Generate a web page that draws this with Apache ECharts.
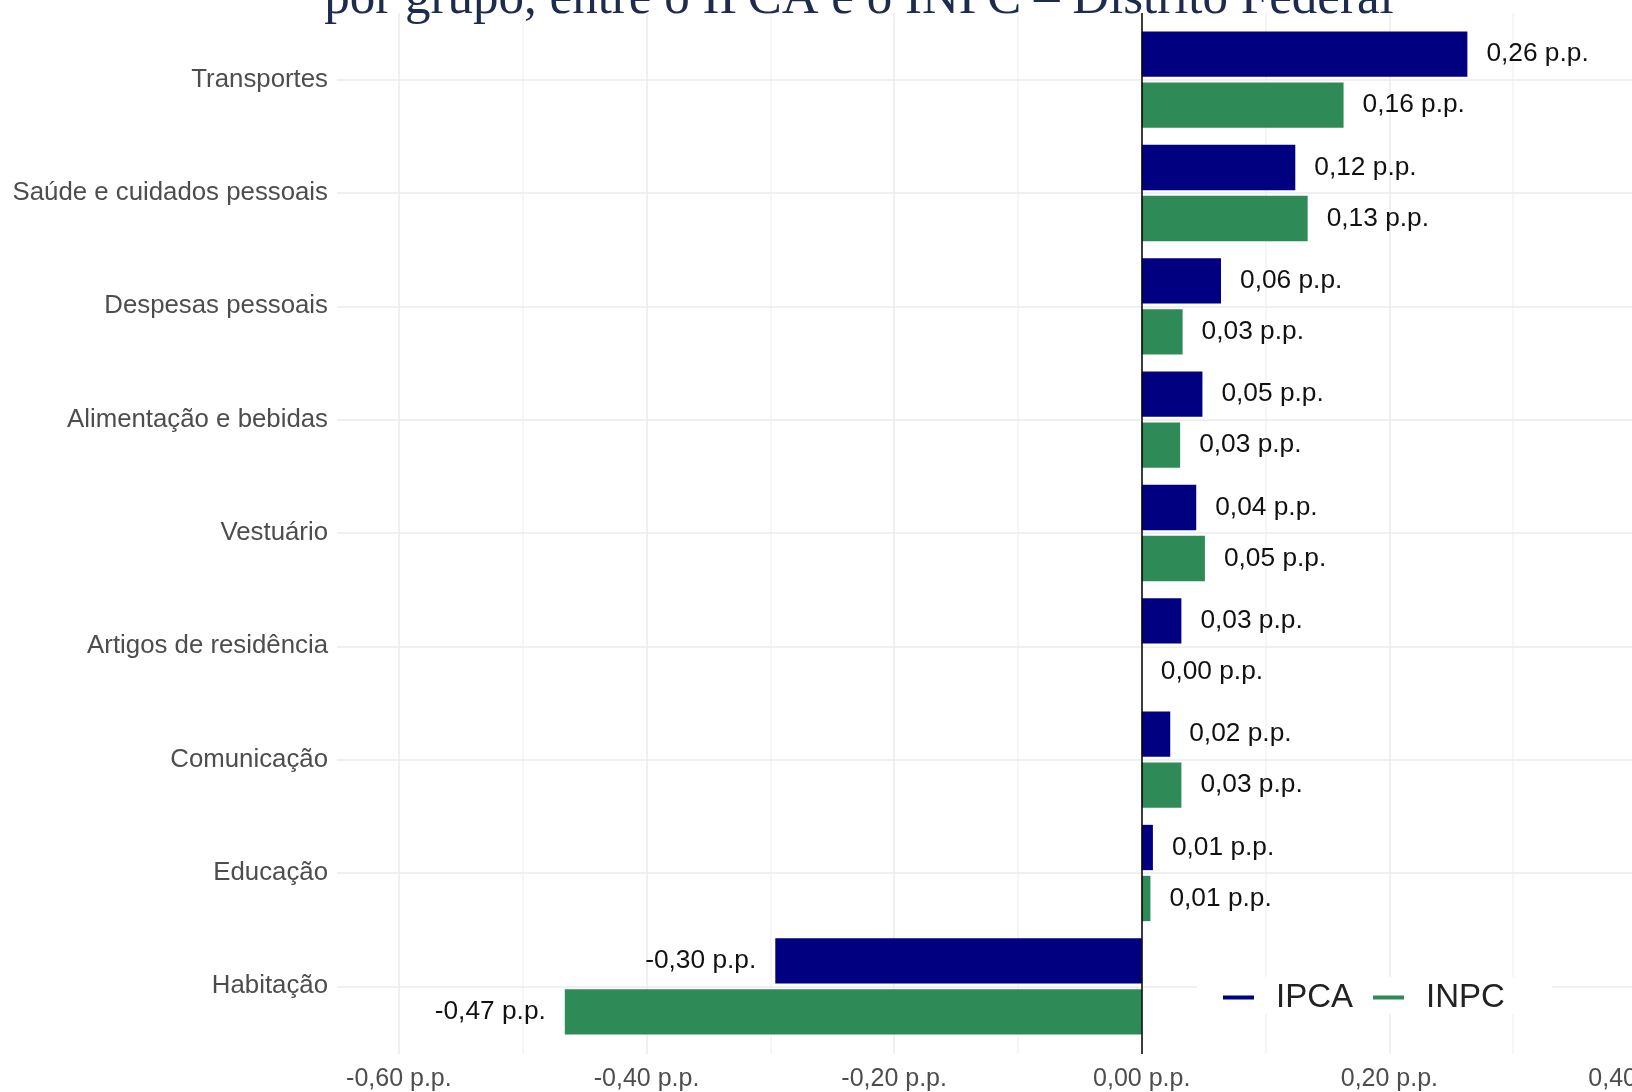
<!DOCTYPE html>
<html>
<head>
<meta charset="utf-8">
<script src="https://cdn.jsdelivr.net/npm/echarts@6/dist/echarts.min.js"></script>
<style>
html,body{margin:0;padding:0;background:#fff;}
#chart{width:1632px;height:1092px;}
</style>
</head>
<body>
<div id="chart"></div>
<script>
// ---- data ----
const categories = [
  'Transportes',
  'Saúde e cuidados pessoais',
  'Despesas pessoais',
  'Alimentação e bebidas',
  'Vestuário',
  'Artigos de residência',
  'Comunicação',
  'Educação',
  'Habitação'
];
const ipcaValues = [0.263, 0.124, 0.064, 0.049, 0.044, 0.032, 0.023, 0.009, -0.296];
const inpcValues = [0.163, 0.134, 0.033, 0.031, 0.051, 0.000, 0.032, 0.007, -0.466];
const xTickValues = [-0.6, -0.4, -0.2, 0, 0.2, 0.4];
const titleText = 'por grupo, entre o IPCA e o INPC – Distrito Federal';

// ---- helpers ----
function fmt(v) {
  const r = Math.round(v * 100) / 100;
  return (r === 0 ? 0 : r).toFixed(2).replace('.', ',') + ' p.p.';
}
function items(values) {
  return values.map(v => ({
    value: v,
    label: { position: v < 0 ? 'left' : 'right' }
  }));
}
const valueLabel = {
  show: true,
  distance: 19,
  fontFamily: 'Liberation Sans',
  fontSize: 26.3,
  color: '#111',
  formatter: p => fmt(p.value)
};
const X_MIN = -0.65, X_MAX = 0.4;

const chart = echarts.init(document.getElementById('chart'), null, { renderer: 'canvas' });
chart.setOption({
  animation: false,
  backgroundColor: '#fff',
  graphic: [{
    type: 'text',
    x: 859,
    y: 0,
    z: 100,
    style: {
      text: titleText,
      align: 'center',
      verticalAlign: 'middle',
      fontFamily: 'Liberation Serif',
      fontSize: 51,
      fill: '#1C2B4E'
    }
  }],
  grid: [
    // background panel (full panel height, like ggplot's expanded discrete scale)
    { left: 337, right: -5, top: 13, bottom: 38, outerBoundsMode: 'none' },
    // bar panel
    { left: 337, right: -5, top: 23, bottom: 49, outerBoundsMode: 'none' }
  ],
  legend: {
    data: ['IPCA', 'INPC'],
    left: 1197,
    top: 977,
    orient: 'horizontal',
    backgroundColor: '#fff',
    padding: [4, 47, 0, 26],
    itemGap: 20,
    itemWidth: 31,
    itemHeight: 4,
    icon: 'rect',
    z: 10,
    textStyle: {
      fontFamily: 'Liberation Sans',
      fontSize: 33,
      color: '#222',
      padding: [0, 0, 0, 17]
    }
  },
  xAxis: [
    {
      gridIndex: 0,
      type: 'value',
      min: X_MIN,
      max: X_MAX,
      interval: 0.05,
      axisLine: { show: false },
      axisTick: { show: false },
      axisLabel: {
        show: true,
        margin: 13,
        showMinLabel: true,
        showMaxLabel: true,
        hideOverlap: false,
        fontFamily: 'Liberation Sans',
        fontSize: 25,
        color: '#4D4D4D',
        formatter: function (v) {
          const k = Math.round(v * 100);
          const hit = xTickValues.some(t => Math.round(t * 100) === k);
          return hit ? fmt(v) : '';
        }
      },
      splitLine: {
        show: true,
        lineStyle: {
          color: ['rgba(0,0,0,0)', '#EBEBEB', 'rgba(0,0,0,0)', '#F3F3F3'],
          width: 1.5
        }
      }
    },
    {
      gridIndex: 1,
      type: 'value',
      min: X_MIN,
      max: X_MAX,
      show: false,
      splitLine: { show: false }
    }
  ],
  yAxis: [
    {
      gridIndex: 0,
      type: 'value',
      min: 0,
      max: 1,
      show: false,
      splitLine: { show: false }
    },
    {
      gridIndex: 1,
      type: 'category',
      data: categories,
      inverse: true,
      axisLine: { show: false },
      axisTick: { show: false },
      splitLine: { show: false },
      axisLabel: {
        margin: 9,
        fontFamily: 'Liberation Sans',
        fontSize: 25.8,
        color: '#4D4D4D'
      }
    }
  ],
  series: [
    {
      name: 'grid-h',
      type: 'line',
      xAxisIndex: 1,
      yAxisIndex: 1,
      data: [],
      z: 1,
      silent: true,
      markLine: {
        silent: true,
        z: 1,
        symbol: ['none', 'none'],
        label: { show: false },
        lineStyle: { color: '#EBEBEB', width: 1.5, type: 'solid' },
        data: categories.map(c => ({ yAxis: c }))
      }
    },
    {
      name: 'IPCA',
      type: 'bar',
      xAxisIndex: 1,
      yAxisIndex: 1,
      data: items(ipcaValues),
      itemStyle: { color: '#000080' },
      barCategoryGap: '15%',
      barGap: '12.5%',
      z: 2,
      label: valueLabel
    },
    {
      name: 'INPC',
      type: 'bar',
      xAxisIndex: 1,
      yAxisIndex: 1,
      data: items(inpcValues),
      itemStyle: { color: '#2E8B57' },
      barCategoryGap: '15%',
      barGap: '12.5%',
      z: 2,
      label: valueLabel
    },
    {
      name: 'zero',
      type: 'line',
      xAxisIndex: 0,
      yAxisIndex: 0,
      data: [],
      z: 3,
      silent: true,
      markLine: {
        silent: true,
        z: 3,
        symbol: ['none', 'none'],
        label: { show: false },
        lineStyle: { color: '#000', width: 1.5, type: 'solid' },
        data: [{ xAxis: 0 }]
      }
    }
  ]
});
</script>
</body>
</html>
